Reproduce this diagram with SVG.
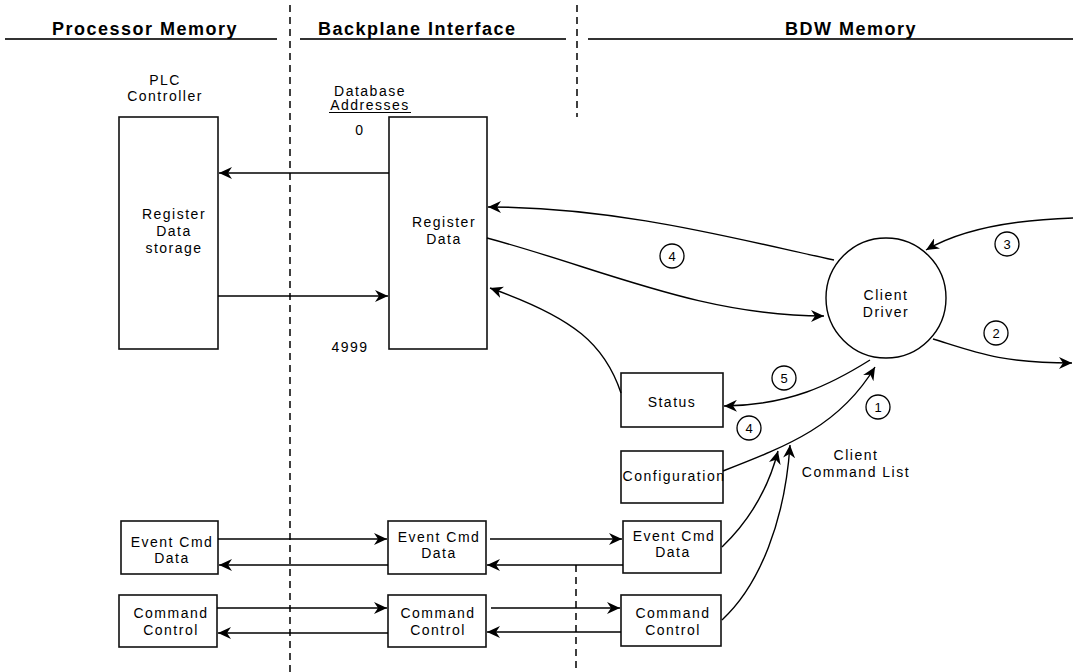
<svg xmlns="http://www.w3.org/2000/svg" width="1073" height="672" viewBox="0 0 1073 672">
<defs>
<style>
.hdr{font-family:"Liberation Sans",Arial,sans-serif;font-weight:bold;font-size:18px;letter-spacing:1.5px;fill:#000}
.t{font-family:"Liberation Sans",Arial,sans-serif;font-size:14px;letter-spacing:1.5px;fill:#000;text-anchor:middle}
.n{font-family:"Liberation Sans",Arial,sans-serif;font-size:13px;fill:#000;text-anchor:middle}
.box{fill:#fff;stroke:#111;stroke-width:1.6}
.hl{stroke:#333;stroke-width:2.2;fill:none}
.dash{stroke:#111;stroke-width:1.6;stroke-dasharray:7 5;fill:none}
.ln{stroke:#000;stroke-width:1.4;fill:none}
.lbl{fill:#fff;stroke:#000;stroke-width:1.3}
</style>
<marker id="ar" markerUnits="userSpaceOnUse" markerWidth="14" markerHeight="12" viewBox="0 0 14 12" refX="13" refY="6" orient="auto">
<path d="M0,0 L13,6 L0,12 L4,6 z" fill="#000"/>
</marker>
</defs>

<g id="headers">
<line class="hl" x1="5" y1="39" x2="277" y2="39"/>
<line class="hl" x1="300" y1="39" x2="566" y2="39"/>
<line class="hl" x1="588" y1="39" x2="1073" y2="39"/>
<text class="hdr" x="52" y="35">Processor Memory</text>
<text class="hdr" x="318" y="35">Backplane Interface</text>
<text class="hdr" x="785" y="35">BDW Memory</text>
<line class="dash" x1="290" y1="5" x2="290" y2="672"/>
<line class="dash" x1="577" y1="5" x2="577" y2="117"/>
<line class="dash" x1="576" y1="565" x2="576" y2="672"/>
</g>

<g id="labels">
<text class="t" x="165" y="85">PLC</text>
<text class="t" x="165" y="101">Controller</text>
<text class="t" x="370" y="96">Database</text>
<text class="t" x="370" y="110">Addresses</text>
<line x1="329" y1="112.5" x2="411" y2="112.5" stroke="#000" stroke-width="1.2"/>
<text class="t" x="360" y="135">0</text>
<text class="t" x="350" y="352">4999</text>
<text class="t" x="856" y="460">Client</text>
<text class="t" x="856" y="477">Command List</text>
</g>

<g id="plc-register">
<rect class="box" x="119" y="117" width="99" height="232"/>
<text class="t" x="174" y="219">Register</text>
<text class="t" x="174" y="236">Data</text>
<text class="t" x="174" y="253">storage</text>
</g>

<g id="bp-register">
<rect class="box" x="389" y="117" width="98" height="232"/>
<text class="t" x="444" y="227">Register</text>
<text class="t" x="444" y="244">Data</text>
</g>

<g id="client-driver">
<circle cx="886" cy="298" r="60" fill="#fff" stroke="#000" stroke-width="1.4"/>
<text class="t" x="886" y="300">Client</text>
<text class="t" x="886" y="317">Driver</text>
</g>

<g id="status">
<rect class="box" x="621" y="373" width="102" height="54"/>
<text class="t" x="672" y="407">Status</text>
</g>

<g id="configuration">
<rect class="box" x="621" y="451" width="102" height="52"/>
<text class="t" x="674" y="481" textLength="103" lengthAdjust="spacingAndGlyphs">Configuration</text>
</g>

<g id="plc-event">
<rect class="box" x="121" y="521" width="97" height="53"/>
<text class="t" x="172" y="547">Event Cmd</text>
<text class="t" x="172" y="563">Data</text>
</g>
<g id="plc-command">
<rect class="box" x="119" y="595" width="98" height="52"/>
<text class="t" x="171" y="618">Command</text>
<text class="t" x="171" y="635">Control</text>
</g>
<g id="bp-event">
<rect class="box" x="388" y="521" width="98" height="53"/>
<text class="t" x="439" y="542">Event Cmd</text>
<text class="t" x="439" y="558">Data</text>
</g>
<g id="bp-command">
<rect class="box" x="388" y="595" width="98" height="52"/>
<text class="t" x="438" y="618">Command</text>
<text class="t" x="438" y="635">Control</text>
</g>
<g id="bdw-event">
<rect class="box" x="623" y="521" width="98" height="52"/>
<text class="t" x="674" y="541">Event Cmd</text>
<text class="t" x="673" y="557">Data</text>
</g>
<g id="bdw-command">
<rect class="box" x="621" y="595" width="100" height="51"/>
<text class="t" x="673" y="618">Command</text>
<text class="t" x="673" y="635">Control</text>
</g>

<g id="connectors">
<line class="ln" x1="389" y1="173" x2="219" y2="173" marker-end="url(#ar)"/>
<line class="ln" x1="218" y1="296" x2="388" y2="296" marker-end="url(#ar)"/>
<path class="ln" d="M834,260 C740,240 620,207 488,207" marker-end="url(#ar)"/>
<path class="ln" d="M487,238 C600,268 700,316 824,316" marker-end="url(#ar)"/>
<path class="ln" d="M621,393 C605,345 575,318 490,288" marker-end="url(#ar)"/>
<path class="ln" d="M870,360 C830,385 790,405 724,406" marker-end="url(#ar)"/>
<path class="ln" d="M723,471 C790,445 840,425 875,367" marker-end="url(#ar)"/>
<path class="ln" d="M722,547 C748,522 768,490 778,451" marker-end="url(#ar)"/>
<path class="ln" d="M722,620 C760,585 785,520 790,445" marker-end="url(#ar)"/>
<path class="ln" d="M1073,218 C1010,220 960,230 926,250" marker-end="url(#ar)"/>
<path class="ln" d="M933,339 C975,352 1000,363 1072,363" marker-end="url(#ar)"/>
<line class="ln" x1="218" y1="539" x2="387" y2="539" marker-end="url(#ar)"/>
<line class="ln" x1="490" y1="539" x2="622" y2="539" marker-end="url(#ar)"/>
<line class="ln" x1="623" y1="565" x2="487" y2="565" marker-end="url(#ar)"/>
<line class="ln" x1="388" y1="565" x2="219" y2="565" marker-end="url(#ar)"/>
<line class="ln" x1="217" y1="608" x2="387" y2="608" marker-end="url(#ar)"/>
<line class="ln" x1="491" y1="608" x2="620" y2="608" marker-end="url(#ar)"/>
<line class="ln" x1="621" y1="632" x2="487" y2="632" marker-end="url(#ar)"/>
<line class="ln" x1="388" y1="633" x2="218" y2="633" marker-end="url(#ar)"/>
</g>

<g id="step-labels">
<circle class="lbl" cx="672" cy="256" r="12"/><text class="n" x="672" y="261">4</text>
<circle class="lbl" cx="1007" cy="244" r="12"/><text class="n" x="1007" y="249">3</text>
<circle class="lbl" cx="996" cy="333" r="12"/><text class="n" x="996" y="338">2</text>
<circle class="lbl" cx="784" cy="378" r="12"/><text class="n" x="784" y="383">5</text>
<circle class="lbl" cx="878" cy="407" r="12"/><text class="n" x="878" y="412">1</text>
<circle class="lbl" cx="749" cy="428" r="12"/><text class="n" x="749" y="433">4</text>
</g>
</svg>
